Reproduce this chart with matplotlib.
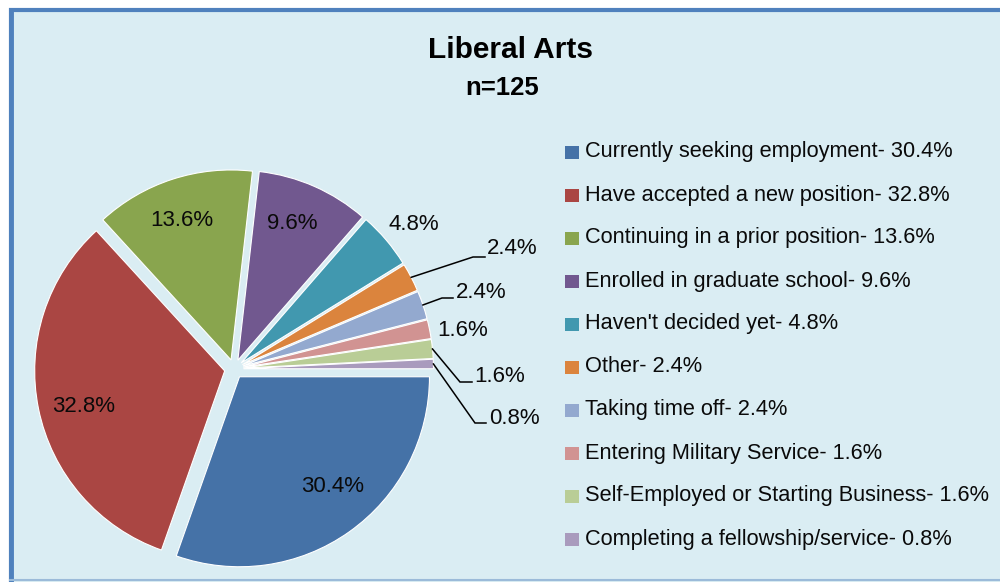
import matplotlib as mpl
mpl.use('Agg')
import matplotlib.pyplot as plt
import numpy as np
from matplotlib.patches import Rectangle

# ── data ──────────────────────────────────────────────────────────────────
categories = ['Currently seeking employment', 'Have accepted a new position',
              'Continuing in a prior position', 'Enrolled in graduate school',
              "Haven't decided yet", 'Other', 'Taking time off',
              'Entering Military Service', 'Self-Employed or Starting Business',
              'Completing a fellowship/service']
percents = [30.4, 32.8, 13.6, 9.6, 4.8, 2.4, 2.4, 1.6, 1.6, 0.8]
title = 'Liberal Arts'
subtitle = 'n=125'

# ── style ─────────────────────────────────────────────────────────────────
COLORS = ['#4572A7', '#AA4643', '#89A54E', '#71588F', '#4198AF',
          '#DB843D', '#93A9CF', '#D19392', '#B9CD96', '#A99BBD']
BG = '#DAEDF3'
TXT = '#0A0A0A'
plt.rcParams['font.family'] = ['Liberation Sans', 'DejaVu Sans']

W, H = 1000, 582
fig = plt.figure(figsize=(W / 100, H / 100), dpi=100, facecolor='white')
ax = fig.add_axes([0, 0, 1, 1])

# chart area frame (right/bottom run past the picture edge)
ax.add_patch(Rectangle((10.5, -10), W + 20, H - 9.5 + 10, facecolor=BG,
                       edgecolor='#4F81BD', linewidth=3, zorder=0))
ax.plot([11, 11], [0, H - 10], color='#4F81BD', lw=3.5, zorder=1)
ax.plot([10, W], [2, 2], color='#9BBBD9', lw=1.5, zorder=1)

# pie, centre at pixel (234, 369) from the top-left
cx, cy, R = 234, H - 369, 190
wedges, _ = ax.pie(percents, colors=COLORS, startangle=0, counterclock=False,
                   explode=[0.05 * R] * len(percents), center=(cx, cy),
                   radius=R, frame=True,
                   wedgeprops=dict(edgecolor='white', linewidth=0.8))
ax.set_xlim(0, W)
ax.set_ylim(0, H)
ax.set_aspect('equal', adjustable='box')
ax.axis('off')

lab_size = 16
# labels on / next to the big slices: (radial factor, angle shift in degrees)
inside_pos = [(0.748, 5.8), (0.765, 1.7), (0.79, 1.1), (0.787, 2.5),
              (1.174, -1.1)]
for w, (f, da), p in zip(wedges[:5], inside_pos, percents[:5]):
    a = np.deg2rad((w.theta1 + w.theta2) / 2 + da)
    x0, y0 = w.center
    ax.text(x0 + f * R * np.cos(a), y0 + f * R * np.sin(a) - 2.5, f'{p}%',
            ha='center', va='center', fontsize=lab_size, color=TXT)

# small slices with leader lines: (elbow x, elbow y, end x, text left x, text y)
leaders = [(473, 257, 485, 487, 249),
           (442, 298, 453, 456, 293),
           None,
           (460, 382, 472, 474, 377),
           (475, 423, 486, 489, 419)]
free_text = {7: (437, 331)}
for k, (w, p) in enumerate(zip(wedges[5:], percents[5:])):
    i = k + 5
    lead = leaders[k]
    if lead is None:
        tx, ty = free_text[i]
        ax.text(tx, H - ty, f'{p}%', ha='left', va='center',
                fontsize=lab_size, color=TXT)
        continue
    a = np.deg2rad((w.theta1 + w.theta2) / 2)
    x0, y0 = w.center
    sx, sy = x0 + R * np.cos(a), y0 + R * np.sin(a)
    ex, ey, hx, tx, ty = lead
    ax.plot([sx, ex, hx], [sy, H - ey, H - ey], color='black', lw=1.1,
            solid_joinstyle='miter')
    ax.text(tx, H - ty, f'{p}%', ha='left', va='center',
            fontsize=lab_size, color=TXT)

# title
ax.text(510, H - 50, title, ha='center', va='center', fontsize=21.5,
        fontweight='bold', color='black')
ax.text(502, H - 88, subtitle, ha='center', va='center', fontsize=18.5,
        fontweight='bold', color='black')

# legend
ly0, dy = 152, 43.0
for i, (c, name, p) in enumerate(zip(COLORS, categories, percents)):
    y = H - (ly0 + i * dy)
    ax.add_patch(Rectangle((565, y - 6.5), 14, 13, facecolor=c,
                           edgecolor='none'))
    ax.text(585, y, f'{name}- {p}%', ha='left', va='center',
            fontsize=15.7, color=TXT)

fig.savefig('out.png', dpi=100, facecolor='white')
